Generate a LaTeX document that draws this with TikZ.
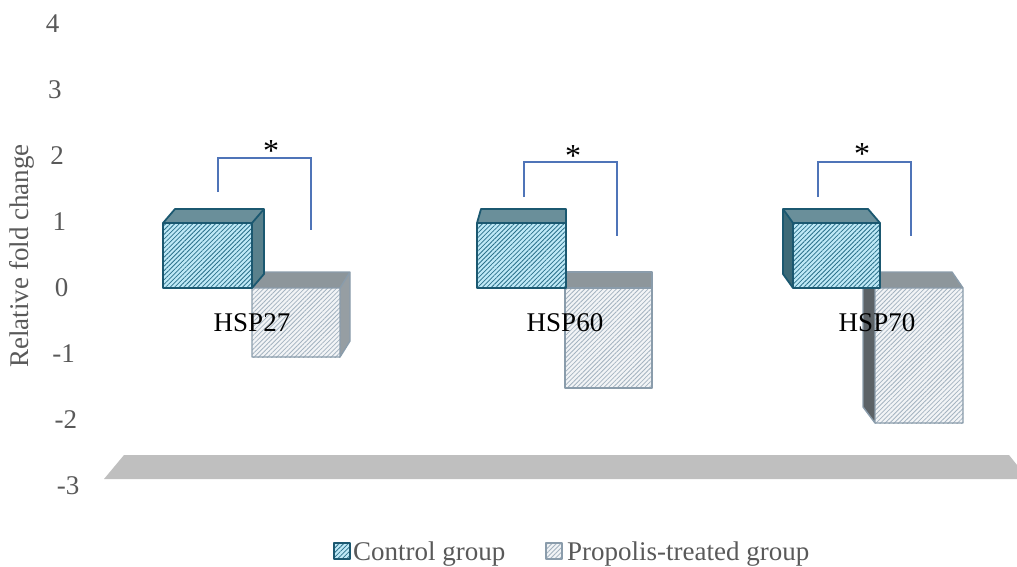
\documentclass[tikz,border=0pt]{standalone}
\usepackage{fontspec}
\setmainfont{Liberation Serif}
\usetikzlibrary{patterns.meta}
\definecolor{cFront}{HTML}{BFE9F7}
\definecolor{cHatch}{HTML}{2B708A}
\definecolor{cTop}{HTML}{6A8F9A}
\definecolor{cSide}{HTML}{5A818C}
\definecolor{cSideDark}{HTML}{3D6A77}
\definecolor{cLine}{HTML}{1B5870}
\definecolor{pFront}{HTML}{F2F4F6}
\definecolor{pHatch}{HTML}{A4B3C0}
\definecolor{pTop}{HTML}{8D969B}
\definecolor{pSide}{HTML}{969EA3}
\definecolor{pSideDark}{HTML}{5C6266}
\definecolor{pLine}{HTML}{8A9CAB}
\definecolor{txtgray}{HTML}{595959}
\definecolor{brk}{HTML}{4F74B8}
\definecolor{floorgray}{HTML}{BFBFBF}
\begin{document}
\begin{tikzpicture}[x=1pt,y=-1pt,
  cfront/.style={fill=cFront},
  chatch/.style={pattern={Lines[angle=45,distance=3.2pt,line width=0.8pt]},pattern color=cHatch},
  cline/.style={draw=cLine,line width=1.8pt,line join=round},
  pfront/.style={fill=pFront},
  phatch/.style={pattern={Lines[angle=45,distance=3.2pt,line width=0.8pt]},pattern color=pHatch},
  pline/.style={draw=pLine,line width=1.4pt,line join=round},
  bracket/.style={draw=brk,line width=1.6pt},
  tick/.style={text=txtgray,font=\fontsize{27}{30}\selectfont,inner sep=0pt,anchor=center},
  catlabel/.style={text=black,font=\fontsize{27}{30}\selectfont,inner sep=0pt,anchor=base},
  star/.style={text=black,font=\fontsize{32}{34}\selectfont,inner sep=0pt,anchor=base},
  legtext/.style={text=txtgray,font=\fontsize{27}{30}\selectfont,inner sep=0pt,anchor=base west}]
\useasboundingbox (0,0) rectangle (1017,566);
\clip (0,0) rectangle (1017,566);

% floor
\fill[floorgray] (104,479) -- (124,455) -- (1009,455) -- (1017,465) -- (1017,479) -- cycle;

% axis labels
\foreach \v in {4,3,2,1,0,-1,-2,-3}{
  \node[tick] (t\v) at ({61.5-2.2*\v},{288-66*\v}) {\v};
}
\node[text=txtgray,font=\fontsize{27}{30}\selectfont,rotate=90,inner sep=0pt] (ytitle) at (22,256) {Relative fold change};

% ---------- HSP27 ----------
% propolis
\fill[pTop] (252,288)--(262,272)--(350,272)--(340,288)--cycle;
\fill[pSide] (340,288)--(350,272)--(350,341)--(340,357)--cycle;
\fill[pfront] (252,288) rectangle (340,357);
\fill[phatch] (252,288) rectangle (340,357);
\draw[pline] (252,288)--(262,272)--(350,272)--(350,341)--(340,357)--(252,357)--cycle
  (252,288)--(340,288)--(350,272) (340,288)--(340,357);
% control
\fill[cTop] (163,223)--(175,209)--(264,209)--(252,223)--cycle;
\fill[cSide] (252,223)--(264,209)--(264,274)--(252,288)--cycle;
\fill[cfront] (163,223) rectangle (252,288);
\fill[chatch] (163,223) rectangle (252,288);
\draw[cline] (163,223)--(175,209)--(264,209)--(264,274)--(252,288)--(163,288)--cycle
  (163,223)--(252,223)--(264,209) (252,223)--(252,288);

% ---------- HSP60 ----------
% propolis
\fill[pTop] (565,288)--(565,272)--(652,272)--(652,288)--cycle;
\fill[pfront] (565,288) rectangle (652,388);
\fill[phatch] (565,288) rectangle (652,388);
\draw[pline] (565,288)--(565,272)--(652,272)--(652,388)--(565,388)--cycle
  (565,288)--(652,288);
% control
\fill[cTop] (477,223)--(481,209)--(566,209)--(566,223)--cycle;
\fill[cfront] (477,223) rectangle (566,288);
\fill[chatch] (477,223) rectangle (566,288);
\draw[cline] (477,223)--(481,209)--(566,209)--(566,288)--(477,288)--cycle
  (477,223)--(566,223);

% ---------- HSP70 ----------
% propolis
\fill[pTop] (875,288)--(863,272)--(952,272)--(963,288)--cycle;
\fill[pSideDark] (875,288)--(863,272)--(863,407)--(875,423)--cycle;
\fill[pfront] (875,288) rectangle (963,423);
\fill[phatch] (875,288) rectangle (963,423);
\draw[pline] (875,288)--(863,272)--(952,272)--(963,288)--(963,423)--(875,423)--(863,407)--(863,272)
  (875,288)--(963,288) (875,288)--(875,423);
% control
\fill[cTop] (793,223)--(783,209)--(868,209)--(880,223)--cycle;
\fill[cSideDark] (793,223)--(783,209)--(783,274)--(793,288)--cycle;
\fill[cfront] (793,223) rectangle (880,288);
\fill[chatch] (793,223) rectangle (880,288);
\draw[cline] (793,223)--(783,209)--(868,209)--(880,223)--(880,288)--(793,288)--(783,274)--(783,209)
  (793,223)--(880,223) (793,223)--(793,288);

% category labels
\node[catlabel] (c27) at (252,331) {HSP27};
\node[catlabel] (c60) at (565,331) {HSP60};
\node[catlabel] (c70) at (877,331) {HSP70};

% brackets
\coordinate (b27a) at (218,192); \coordinate (b27b) at (218,158);
\coordinate (b27c) at (311,158); \coordinate (b27d) at (311,230);
\draw[bracket] (b27a) -- (b27b) -- (b27c) -- (b27d);
\node[star] (s27) at (271,161) {*};
\coordinate (b60a) at (524,197); \coordinate (b60b) at (524,162);
\coordinate (b60c) at (617,162); \coordinate (b60d) at (617,236);
\draw[bracket] (b60a) -- (b60b) -- (b60c) -- (b60d);
\node[star] (s60) at (573,166) {*};
\coordinate (b70a) at (818,197); \coordinate (b70b) at (818,162);
\coordinate (b70c) at (911,162); \coordinate (b70d) at (911,236);
\draw[bracket] (b70a) -- (b70b) -- (b70c) -- (b70d);
\node[star] (s70) at (862,164) {*};

% legend
\fill[cfront] (334,543) rectangle (350,559);
\fill[chatch] (334,543) rectangle (350,559);
\draw[cline,line width=1.2pt] (334,543) rectangle (350,559);
\node[legtext] (l1) at (353,560) {Control group};
\fill[pfront] (546,543) rectangle (562,559);
\fill[phatch] (546,543) rectangle (562,559);
\draw[pline,line width=1.2pt] (546,543) rectangle (562,559);
\node[legtext] (l2) at (567,560) {Propolis-treated group};
\end{tikzpicture}
\end{document}
